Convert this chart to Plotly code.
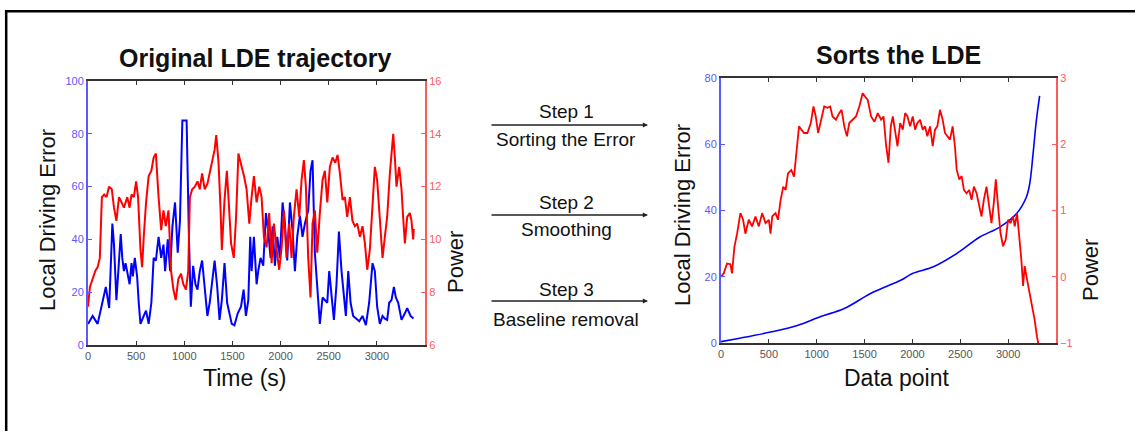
import plotly.graph_objects as go

# ---- Original LDE trajectory (left panel) ----
lde_t = [0, 48, 100, 150, 185, 220, 236, 253, 270, 295, 315, 340, 356, 373, 390, 408, 432, 452, 466, 486,
         510, 527, 545, 579, 603, 630, 658, 682, 705, 733, 760, 784, 801, 829, 853, 877, 904, 932, 955, 980,
         1024, 1048, 1068, 1092, 1116, 1137, 1161, 1185, 1212, 1240, 1264, 1288, 1315, 1342, 1366, 1390, 1418,
         1445, 1469, 1493, 1521, 1555, 1589, 1616, 1640, 1665, 1685, 1699, 1723, 1751, 1768, 1792, 1820, 1848,
         1872, 1896, 1917, 1941, 1966, 1993, 2021, 2045, 2069, 2097, 2125, 2149, 2173, 2201, 2228, 2253, 2287,
         2311, 2332, 2356, 2381, 2408, 2436, 2460, 2485, 2505, 2530, 2554, 2581, 2606, 2633, 2658, 2678, 2703,
         2727, 2754, 2782, 2817, 2851, 2886, 2920, 2955, 2979, 3003, 3031, 3059, 3083, 3107, 3128, 3152, 3177,
         3197, 3222, 3256, 3291, 3315, 3350, 3380]
lde_val = [8, 11, 8, 16, 22, 14, 28, 46, 38, 17, 28, 42, 33, 28, 31, 27, 23, 31, 26, 33,
           26, 16, 8, 11, 13, 8, 16, 33, 32, 41, 33, 38, 28, 40, 28, 45, 54, 35, 47, 85,
           85, 41, 14.5, 30, 23, 21, 28, 32, 22, 11, 16, 23, 32, 22, 9.5, 17, 31,
           16, 12, 8, 7.5, 12, 14.5, 21, 11, 17, 41, 28, 41, 23, 28, 33, 30, 50,
           43, 33, 45, 30, 41, 33, 54, 46, 32, 54, 43, 28, 41, 49, 41, 46, 51,
           66, 70, 35, 22, 8, 18, 17, 16, 28, 18, 9.5, 23, 43, 28, 18, 11, 28,
           16, 11, 10, 9, 11, 7.5, 16, 31, 28, 14.5, 8, 11, 10, 9.5, 16, 17, 22,
           18, 16, 9.5, 12, 14, 11, 10]

pow_t = [0, 20, 48, 75, 100, 123, 144, 168, 192, 219, 247, 270, 295, 322, 349, 373, 408, 432, 452, 476,
         500, 520, 545, 562, 579, 603, 630, 658, 682, 705, 733, 760, 784, 808, 836, 863, 887, 911, 938, 966,
         990, 1017, 1041, 1058, 1082, 1110, 1137, 1161, 1185, 1212, 1240, 1264, 1288, 1315, 1332, 1356, 1377,
         1390, 1418, 1442, 1462, 1486, 1514, 1538, 1562, 1589, 1620, 1647, 1675, 1699, 1723, 1751, 1779, 1803,
         1827, 1855, 1882, 1907, 1931, 1959, 1986, 2011, 2035, 2062, 2090, 2114, 2138, 2166, 2194, 2218, 2242,
         2263, 2287, 2311, 2332, 2356, 2381, 2408, 2436, 2460, 2485, 2512, 2540, 2568, 2592, 2616, 2644, 2668,
         2692, 2720, 2747, 2772, 2796, 2824, 2851, 2876, 2900, 2927, 2955, 2979, 3003, 3031, 3059, 3083, 3107,
         3135, 3152, 3170, 3187, 3204, 3232, 3256, 3273, 3291, 3315, 3343, 3360, 3377, 3384]
pow_val = [7.45, 8.2, 8.5, 8.8, 8.95, 9.3, 11.6, 11.7, 11.6, 12.0, 11.9, 11.2, 10.7, 11.6, 11.4, 11.2, 11.6, 11.2, 11.7, 11.6,
           12.2, 11.6, 9.6, 8.95, 10.1, 11.4, 12.4, 12.6, 13.1, 13.25, 11.6, 10.35, 11.1, 10.5, 11.1, 8.8, 8.1, 7.7, 8.5, 8.7,
           8.3, 8.1, 8.8, 11.6, 11.9, 12.0, 12.2, 11.9, 12.5, 11.9, 12.1, 12.5, 12.9, 13.4, 13.95, 12.9, 11.1,
           9.6, 11.5, 12.6, 11.4, 9.85, 9.3, 10.85, 13.25, 12.9, 12.4, 11.9, 10.6, 11.6, 12.4, 11.4, 12.0, 11.6,
           10.1, 9.7, 11.0, 9.1, 10.6, 9.6, 8.85, 9.7, 11.1, 9.3, 10.6, 9.3, 10.85, 11.9, 10.85, 12.25, 13.0,
           12.0, 9.3, 7.8, 10.6, 11.1, 9.5, 11.0, 12.25, 12.6, 11.4, 12.75, 13.1, 12.9, 13.2, 12.5, 11.5, 11.6,
           10.85, 11.6, 10.7, 10.5, 10.6, 10.1, 10.5, 9.85, 8.85, 9.6, 11.4, 12.75, 12.25, 10.85, 9.3, 10.1, 10.85,
           12.5, 13.1, 14.0, 13.1, 12.0, 12.75, 11.9, 10.85, 9.85, 10.85, 11.0, 10.7, 10.0, 10.4]

# ---- Sorted LDE (right panel) ----
sorted_pt = [0, 168, 518, 798, 1043, 1288, 1568, 1883, 2000, 2219, 2462, 2704, 2913, 3086, 3190, 3225, 3260, 3294, 3329]
sorted_lde = [0.4, 1.3, 3.3, 5.3, 8, 10.4, 15, 19, 21, 23, 27, 32, 35, 39, 44, 48, 57, 67, 74.6]

spow_pt = [0, 28, 63, 98, 115, 140, 168, 203, 231, 255, 290, 325, 360, 395, 430, 465, 500, 518, 535, 570,
           595, 623, 651, 675, 700, 735, 763, 791, 815, 840, 868, 903, 938, 966, 990, 1015, 1043, 1078, 1113,
           1141, 1165, 1200, 1235, 1260, 1288, 1316, 1340, 1375, 1410, 1445, 1480, 1505, 1533, 1568, 1603, 1638,
           1673, 1698, 1726, 1750, 1774, 1795, 1820, 1844, 1872, 1899, 1924, 1948, 1976, 2003, 2028, 2052, 2080,
           2108, 2132, 2156, 2184, 2212, 2236, 2260, 2288, 2316, 2340, 2364, 2392, 2420, 2444, 2462, 2489, 2514,
           2538, 2566, 2593, 2618, 2642, 2670, 2697, 2722, 2746, 2774, 2802, 2826, 2850, 2871, 2895, 2920, 2947,
           2975, 2999, 3024, 3051, 3069, 3093, 3114, 3138, 3156, 3173, 3197, 3225, 3253, 3277, 3301, 3320]
spow_val = [0.0, 0.05, 0.2, 0.19, 0.05, 0.45, 0.65, 0.96, 0.86, 0.65, 0.86, 0.76, 0.91, 0.76, 0.96, 0.81, 0.86, 0.65, 0.91, 0.96,
            0.86, 1.16, 1.36, 1.31, 1.56, 1.61, 1.51, 1.97, 2.27, 2.22, 2.17, 2.17, 2.32, 2.57, 2.42, 2.17, 2.37, 2.57, 2.55,
            2.57, 2.42, 2.37, 2.47, 2.52, 2.27, 2.12, 2.32, 2.37, 2.42, 2.57, 2.77, 2.72, 2.67, 2.42, 2.34, 2.47,
            2.37, 2.42, 1.97, 1.72, 2.27, 2.42, 2.17, 1.97, 2.32, 2.22, 2.47, 2.42, 2.27, 2.42, 2.22, 2.32, 2.37,
            2.22, 2.27, 2.12, 2.27, 1.97, 2.22, 2.27, 2.52, 2.37, 2.17, 2.12, 2.07, 2.27, 1.97, 1.62, 1.47, 1.52,
            1.31, 1.26, 1.31, 1.16, 1.36, 1.26, 1.06, 0.91, 1.16, 1.36, 1.06, 0.81, 1.11, 1.47, 1.06, 0.66, 0.46,
            0.56, 0.86, 0.81, 0.91, 0.76, 0.96, 0.66, 0.26, -0.14, 0.16, -0.04, -0.25, -0.45, -0.65, -0.9, -1.05]

x_ticks = [0, 500, 1000, 1500, 2000, 2500, 3000]

BLUE = "#0000ff"
RED = "#ff0000"
BLUE_AX = "#5a5aff"
RED_AX = "#ff5a5a"
GREY = "#555555"
FONT = "Liberation Sans, Arial, sans-serif"

W, H = 1135, 431


def px(x):
    return x / W


def py(y):
    return 1 - y / H


fig = go.Figure()
fig.add_trace(go.Scatter(x=lde_t, y=lde_val, mode="lines", line=dict(color=BLUE, width=2),
                         xaxis="x", yaxis="y", showlegend=False))
fig.add_trace(go.Scatter(x=pow_t, y=pow_val, mode="lines", line=dict(color=RED, width=2),
                         xaxis="x", yaxis="y2", showlegend=False))
fig.add_trace(go.Scatter(x=sorted_pt, y=sorted_lde, mode="lines", line=dict(color=BLUE, width=1.6, shape="spline"),
                         xaxis="x2", yaxis="y3", showlegend=False))
fig.add_trace(go.Scatter(x=spow_pt, y=spow_val, mode="lines", line=dict(color=RED, width=1.8),
                         xaxis="x2", yaxis="y4", showlegend=False))

xcommon = dict(range=[0, 3500], tickvals=x_ticks, ticks="inside", ticklen=4, tickcolor="#333",
               showline=True, linecolor="#333", linewidth=1.5, mirror="ticks", showgrid=False,
               zeroline=False, tickfont=dict(family=FONT, size=11, color=GREY), fixedrange=True,
               automargin=False)
ycommon = dict(ticks="inside", ticklen=4, showline=True, linewidth=2, showgrid=False, zeroline=False,
               fixedrange=True, automargin=False)

left_x = [px(88), px(425)]
left_y = [py(345), py(81)]
right_x = [px(721), px(1056)]
right_y = [py(343), py(78)]

fig.update_layout(
    width=W, height=H, margin=dict(l=0, r=0, t=0, b=0, pad=0, autoexpand=False),
    paper_bgcolor="white", plot_bgcolor="white",
    xaxis=dict(domain=left_x, anchor="y", **xcommon),
    yaxis=dict(domain=left_y, anchor="x", range=[0, 100], dtick=20, linecolor=BLUE_AX, tickcolor=BLUE_AX,
               tickfont=dict(family=FONT, size=11, color=BLUE_AX), **ycommon),
    yaxis2=dict(overlaying="y", side="right", anchor="x", range=[6, 16], dtick=2, linecolor=RED_AX,
                tickcolor=RED_AX, tickfont=dict(family=FONT, size=11, color=RED_AX), **ycommon),
    xaxis2=dict(domain=right_x, anchor="y3", **xcommon),
    yaxis3=dict(domain=right_y, anchor="x2", range=[0, 80], dtick=20, linecolor=BLUE_AX, tickcolor=BLUE_AX,
                tickfont=dict(family=FONT, size=11, color=BLUE_AX), **ycommon),
    yaxis4=dict(overlaying="y3", side="right", anchor="x2", range=[-1, 3], dtick=1, linecolor=RED_AX,
                tickcolor=RED_AX, tickfont=dict(family=FONT, size=11, color=RED_AX), **ycommon),
)

annotations = []


def text(x, y, s, size, bold=False, angle=0):
    annotations.append(dict(x=px(x), y=py(y), xref="paper", yref="paper", text=f"<b>{s}</b>" if bold else s,
                            showarrow=False, textangle=angle, xanchor="center", yanchor="middle",
                            font=dict(family=FONT, size=size, color="#111")))


# panel titles
text(255, 58, "Original LDE trajectory", 25, bold=True)
text(898, 55, "Sorts the LDE", 25, bold=True)
# axis titles
text(244, 378, "Time (s)", 23)
text(896, 378, "Data point", 23)
text(47, 220, "Local Driving Error", 22, angle=-90)
text(455, 262, "Power", 22, angle=-90)
text(682, 215, "Local Driving Error", 22, angle=-90)
text(1090, 270, "Power", 22, angle=-90)

# processing steps between the panels
steps = [("Step 1", "Sorting the Error", 111, 125, 139),
         ("Step 2", "Smoothing", 202, 215, 229),
         ("Step 3", "Baseline removal", 289, 301, 319)]
for top, bottom, ty, ay, by in steps:
    text(566, ty, top, 19)
    text(566, by, bottom, 19)
    annotations.append(dict(x=px(648), y=py(ay), xref="paper", yref="paper", ax=-158, ay=0,
                            axref="pixel", ayref="pixel", showarrow=True, arrowhead=2, arrowsize=0.8,
                            arrowwidth=1.3, arrowcolor="#222", text="", standoff=0, startstandoff=0))

fig.update_layout(annotations=annotations)

# outer frame (top and left edges)
fig.add_shape(type="line", xref="paper", yref="paper", x0=px(5), x1=1, y0=py(11.2), y1=py(11.2),
              line=dict(color="black", width=2.5))
fig.add_shape(type="line", xref="paper", yref="paper", x0=px(6.2), x1=px(6.2), y0=py(10), y1=0,
              line=dict(color="black", width=2.5))

fig.write_html("out.html")
